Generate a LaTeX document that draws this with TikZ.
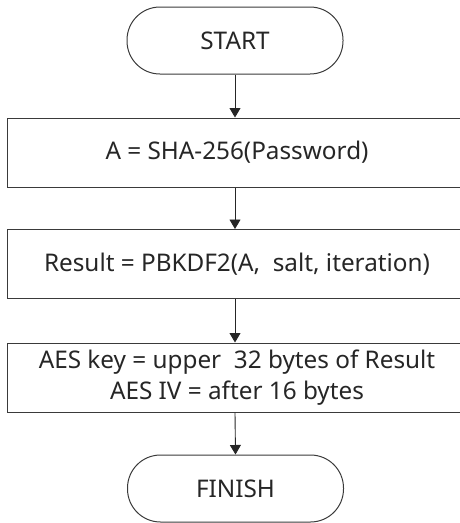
\documentclass[tikz,border=0pt]{standalone}
\usepackage{fontspec}
\setmainfont{Noto Sans}
\usetikzlibrary{arrows.meta}
\definecolor{edge}{HTML}{3A3A3A}
\definecolor{ink}{HTML}{262626}
\tikzset{
  x=1pt, y=-1pt,
  every node/.style={font=\fontsize{24.3}{31.5}\selectfont, text=ink},
  terminal/.style={draw=edge, line width=1pt, rounded corners=33pt, minimum width=216pt, minimum height=67pt, inner sep=0pt},
  stepbox/.style={draw=edge, line width=1pt, minimum width=460pt, minimum height=69pt, inner sep=0pt, align=center},
  flow/.style={draw=ink, line width=0.9pt, -{Triangle[length=9.5pt, width=11pt]}}
}
\begin{document}
\begin{tikzpicture}
  \useasboundingbox (0,0) rectangle (460,523);
  \begin{scope}
    \clip (0,0) rectangle (460,523);
    \node[terminal] (start) at (235,40.5) {START};
    \node[stepbox] (hash) at (237,152.5) {A = SHA-256(Password)};
    \node[stepbox] (kdf) at (237,264) {Result = PBKDF2(A,~ salt, iteration)};
    \node[stepbox] (aes) at (237,377.5) {AES key = upper~ 32 bytes of Result\\AES IV = after 16 bytes};
    \node[terminal] (finish) at (235.5,488.5) {FINISH};
  \end{scope}
  \draw[flow] (start.south) -- (start.south |- hash.north);
  \draw[flow] (start.south |- hash.south) -- (start.south |- kdf.north);
  \draw[flow] (start.south |- kdf.south) -- (start.south |- aes.north);
  \draw[flow] (start.south |- aes.south) -- (finish.north);
\end{tikzpicture}
\end{document}
